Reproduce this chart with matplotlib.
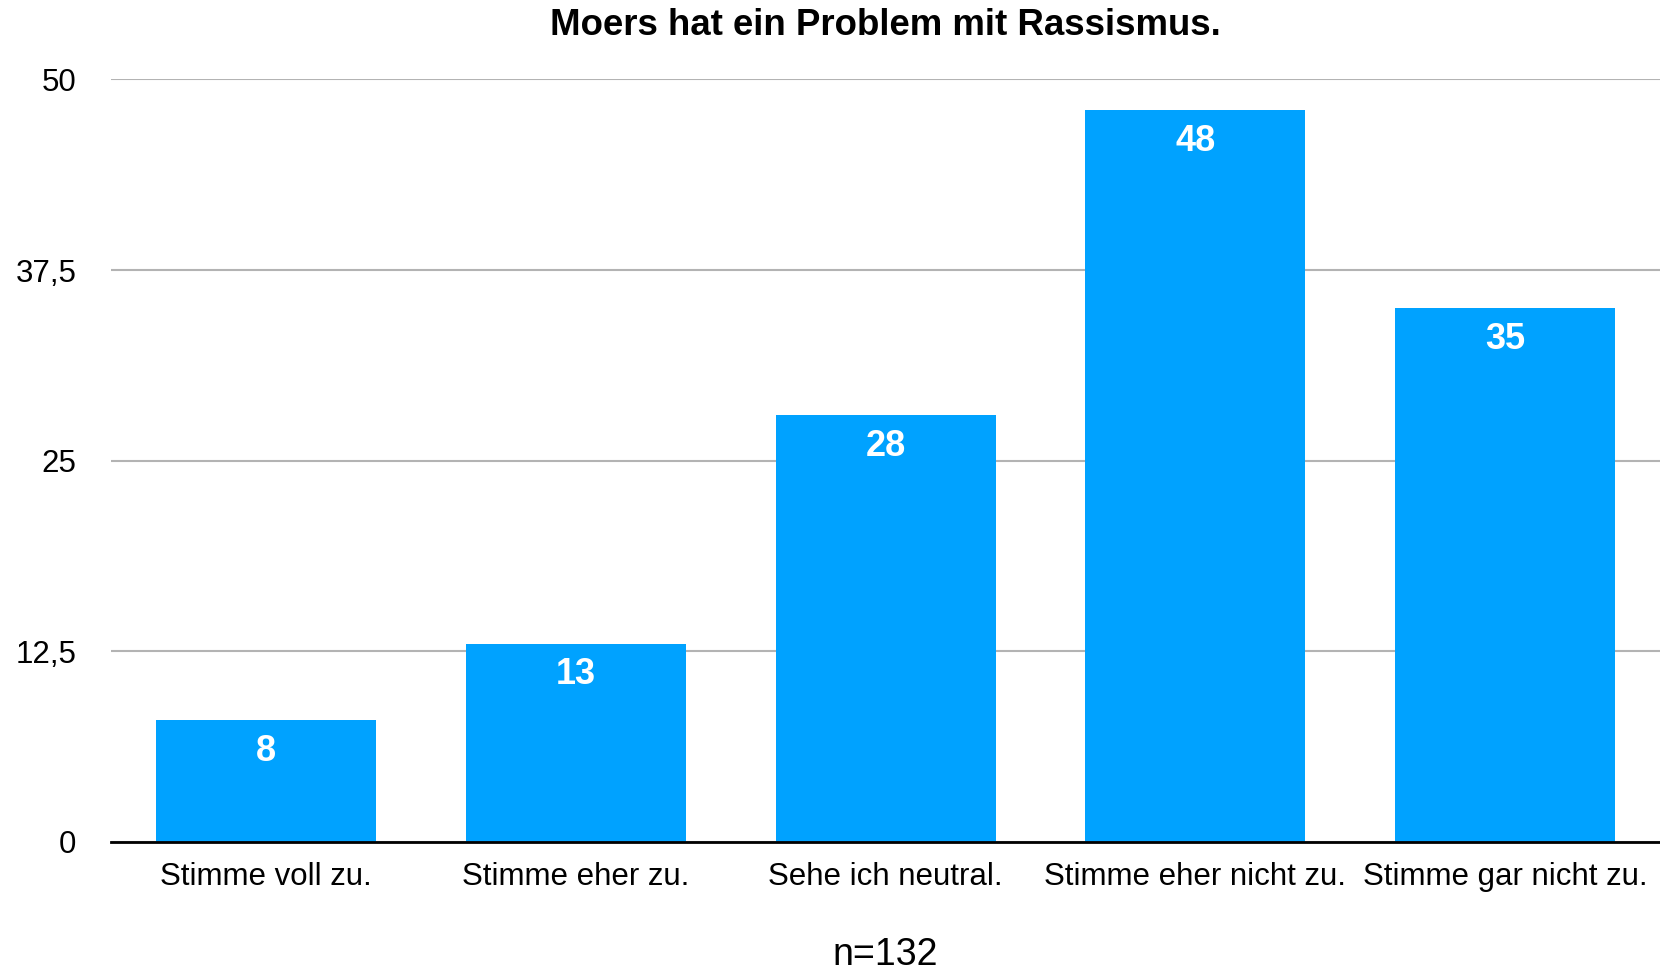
import matplotlib
matplotlib.use('Agg')
import matplotlib.pyplot as plt

kategorien = ['Stimme voll zu.', 'Stimme eher zu.', 'Sehe ich neutral.',
              'Stimme eher nicht zu.', 'Stimme gar nicht zu.']
werte = [8, 13, 28, 48, 35]
y_ticks = [0, 12.5, 25, 37.5, 50]
y_labels = ['0', '12,5', '25', '37,5', '50']

plt.rcParams['font.family'] = ['Liberation Sans', 'DejaVu Sans']

fig = plt.figure(figsize=(16.6, 9.71), dpi=100)
ax = fig.add_axes([0.0669, 0.1329, 0.9331, 0.7853])

x = range(len(kategorien))
bars = ax.bar(x, werte, width=0.71, color='#00A2FF', zorder=3)

# Werte in die Balken schreiben
for b, w in zip(bars, werte):
    ax.annotate(str(w), (b.get_x() + b.get_width() / 2, b.get_height()),
                xytext=(0, -22.5), textcoords='offset points',
                ha='center', va='center', color='white',
                fontsize=26, fontweight='bold', zorder=4)

ax.set_xlim(-0.5, len(kategorien) - 0.5)
ax.set_ylim(0, 50)
ax.set_yticks(y_ticks)
ax.set_yticklabels(y_labels)
ax.set_xticks(list(x))
ax.set_xticklabels(kategorien)
ax.tick_params(axis='y', length=0, pad=25, labelsize=22.5)
ax.tick_params(axis='x', length=0, pad=14.5, labelsize=22.5)

ax.grid(axis='y', color='#b3b3b3', linewidth=1.5, zorder=0)
for s in ['top', 'right', 'left']:
    ax.spines[s].set_visible(False)
ax.spines['bottom'].set_linewidth(2)
ax.spines['bottom'].set_color('black')
ax.spines['bottom'].set_zorder(5)

mitte = 0.0669 + 0.9331 / 2
fig.text(mitte, 0.974, 'Moers hat ein Problem mit Rassismus.', ha='center', va='center',
         fontsize=26.4, fontweight='bold')
fig.text(mitte, 0.016, 'n=132', ha='center', va='center', fontsize=27)

fig.savefig('out.png', dpi=100)
